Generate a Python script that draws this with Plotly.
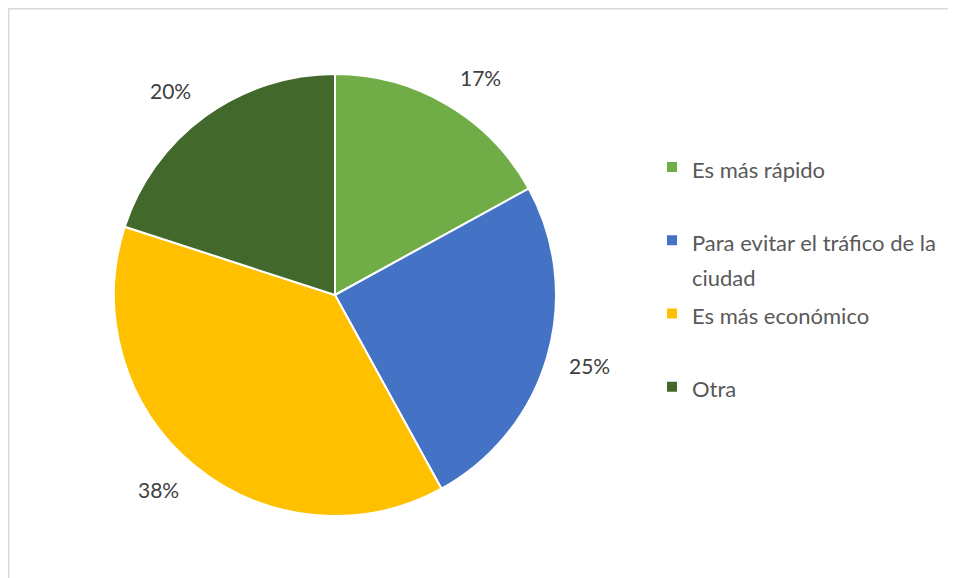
import math
import plotly.graph_objects as go

categories = ["Es más rápido", "Para evitar el tráfico de la<br>ciudad", "Es más económico", "Otra"]
values = [17, 25, 38, 20]
colors = ["#70AD47", "#4472C4", "#FFC000", "#43682B"]

# page body has an 8px default margin; size the figure to fit the 956x578 window
OFF = 8
W, H = 956 - OFF, 578 - OFF
cx, cy, r = 335 - OFF, 295 - OFF, 221
label_r = 242

# legend labels: visible text in a smaller span than the legend font (sets spacing)
legend_labels = []
for c in categories:
    parts = c.split("<br>")
    txt = "<br>".join(f'<span style="font-size:22px">{p}</span>' for p in parts)
    if len(parts) == 1 and c != categories[-1]:
        txt += "<br> "
    legend_labels.append(txt)

fig = go.Figure(go.Pie(
    labels=legend_labels,
    values=values,
    sort=False,
    direction="clockwise",
    rotation=0,
    marker=dict(colors=colors, line=dict(color="white", width=2)),
    textinfo="none",
    hoverinfo="percent",
    domain=dict(x=[(cx - r) / W, (cx + r) / W], y=[(H - cy - r) / H, (H - cy + r) / H]),
))

annotations = []
total = sum(values)
cum = 0
for v in values:
    mid = (cum + v / 2) / total * 2 * math.pi
    cum += v
    s, c = math.sin(mid), math.cos(mid)
    px = cx + label_r * s
    py = cy - label_r * c
    annotations.append(dict(
        x=px / W, y=(H - py) / H, xref="paper", yref="paper",
        text=f"{round(v / total * 100)}%", showarrow=False,
        font=dict(family="Lato", size=21, color="#404040"),
        xanchor="left" if s > 0 else "right", yanchor="middle",
        yshift=11 * c,
    ))

fig.update_layout(
    width=W, height=H,
    margin=dict(l=0, r=0, t=0, b=0),
    paper_bgcolor="white",
    plot_bgcolor="white",
    showlegend=True,
    legend=dict(
        x=(652 - OFF) / W, y=1 - (143 - OFF) / H, xanchor="left", yanchor="top",
        valign="top",
        font=dict(family="Lato", size=27, color="#595959"),
        bgcolor="rgba(0,0,0,0)",
    ),
    annotations=annotations,
    shapes=[dict(type="rect", xref="paper", yref="paper",
                 x0=0.7 / W, y0=-0.05, x1=1.05, y1=(H - 0.7) / H,
                 line=dict(color="#D9D9D9", width=1.5))],
)

fig.write_html("out.html")
